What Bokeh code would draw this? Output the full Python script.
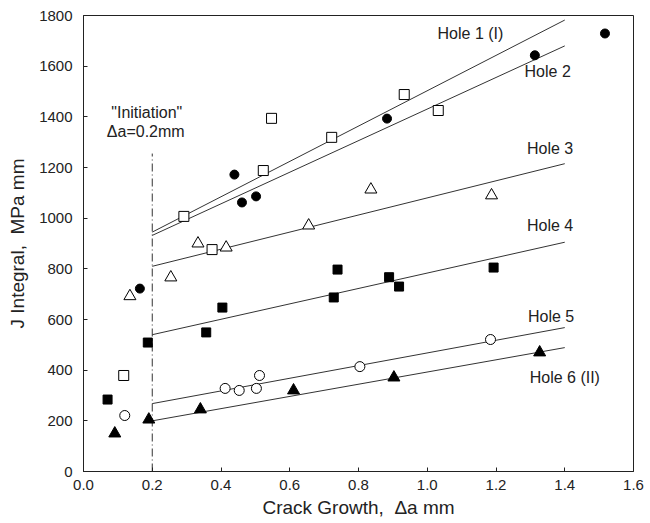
from bokeh.plotting import figure
from bokeh.models import FixedTicker, PrintfTickFormatter, Range1d
from bokeh.core.properties import value
from bokeh.embed import file_html
from bokeh.resources import INLINE

# ---- data ----
hole1_x = [0.164, 0.439, 0.461, 0.502, 0.883, 1.313, 1.517]
hole1_y = [722, 1172, 1062, 1086, 1393, 1643, 1729]

hole2_x = [0.117, 0.292, 0.374, 0.523, 0.547, 0.722, 0.933, 1.032]
hole2_y = [379, 1007, 876, 1188, 1394, 1319, 1488, 1425]

hole3_x = [0.135, 0.254, 0.333, 0.415, 0.655, 0.836, 1.187]
hole3_y = [692, 766, 900, 884, 971, 1113, 1090]

hole4_x = [0.070, 0.187, 0.357, 0.404, 0.728, 0.739, 0.889, 0.918, 1.193]
hole4_y = [284, 509, 549, 647, 687, 797, 767, 730, 805]

hole5_x = [0.120, 0.412, 0.453, 0.503, 0.512, 0.804, 1.184]
hole5_y = [221, 328, 320, 328, 379, 414, 521]

hole6_x = [0.091, 0.190, 0.340, 0.611, 0.903, 1.327]
hole6_y = [150, 205, 245, 320, 371, 470]

# fitted lines from initiation (0.2 mm) to 1.4 mm
fit_x = [0.2, 1.4]
fit1_y = [945, 1782]
fit2_y = [932, 1680]
fit3_y = [810, 1215]
fit4_y = [540, 905]
fit5_y = [268, 568]
fit6_y = [200, 489]

init_x = [0.2, 0.2]
init_y = [0, 1255]

hole_labels = ["Hole 1 (I)", "Hole 2", "Hole 3", "Hole 4", "Hole 5", "Hole 6 (II)"]
label_x = [1.030, 1.283, 1.290, 1.290, 1.293, 1.298]
label_y = [1729, 1579, 1275, 971, 612, 371]

x_ticks = [0.0, 0.2, 0.4, 0.6, 0.8, 1.0, 1.2, 1.4, 1.6]
y_ticks = [0, 200, 400, 600, 800, 1000, 1200, 1400, 1600, 1800]

FONT = "Liberation Sans"

p = figure(width=650, height=523, output_backend="svg", toolbar_location=None,
           x_range=Range1d(0, 1.6), y_range=Range1d(0, 1800),
           min_border_left=83, min_border_right=17, min_border_top=15,
           min_border_bottom=52)
p.background_fill_color = "white"
p.border_fill_color = "white"
p.outline_line_color = "#222222"
p.outline_line_width = 1
p.grid.visible = False

for ax in (p.xaxis, p.yaxis):
    ax.major_tick_in = 4
    ax.major_tick_out = 0
    ax.minor_tick_line_color = None
    ax.axis_line_color = "#222222"
    ax.major_tick_line_color = "#222222"
    ax.major_label_text_font = FONT
    ax.major_label_text_font_size = "15px"
    ax.major_label_text_color = "#222222"
    ax.axis_label_text_font = FONT
    ax.axis_label_text_font_size = "19px"
    ax.axis_label_text_font_style = "normal"
    ax.axis_label_text_color = "#222222"

p.xaxis.ticker = FixedTicker(ticks=x_ticks)
p.yaxis.ticker = FixedTicker(ticks=y_ticks)
p.xaxis.formatter = PrintfTickFormatter(format="%.1f")
p.xaxis.axis_label = "Crack Growth,\u00a0 \u0394a mm"
p.yaxis.axis_label = "J Integral,\u00a0 MPa mm"
p.xaxis.major_label_standoff = 8
p.yaxis.major_label_standoff = 11
p.xaxis.axis_label_standoff = 4
p.yaxis.axis_label_standoff = 8

# fitted lines
for fy in (fit1_y, fit2_y, fit3_y, fit4_y, fit5_y, fit6_y):
    p.line(fit_x, fy, line_color="#333333", line_width=1)

# initiation line
p.line(init_x, init_y, line_color="#333333", line_width=1, line_dash="8 3 1 3")

# markers
p.scatter(hole1_x, hole1_y, marker="circle", size=9, fill_color="black", line_color="black")
p.scatter(hole2_x, hole2_y, marker="square", size=10, fill_color="white", line_color="black", line_width=1)
p.scatter(hole3_x, hole3_y, marker="triangle", size=12, fill_color="white", line_color="black", line_width=1)
p.scatter(hole4_x, hole4_y, marker="square", size=9, fill_color="black", line_color="black")
p.scatter(hole5_x, hole5_y, marker="circle", size=10, fill_color="white", line_color="black", line_width=1)
p.scatter(hole6_x, hole6_y, marker="triangle", size=12, fill_color="black", line_color="black")

# hole labels
p.text(x=label_x, y=label_y, text=hole_labels, text_font=value(FONT),
       text_font_size="16px", text_color="#222222", text_baseline="middle",
       text_align="left")

# initiation annotation
p.text(x=[0.184, 0.181], y=[1417, 1342], text=['"Initiation"', "\u0394a=0.2mm"],
       text_font=value(FONT), text_font_size="16px", text_color="#222222",
       text_baseline="middle", text_align="center")

open("out.html", "w").write(file_html(p, INLINE))
